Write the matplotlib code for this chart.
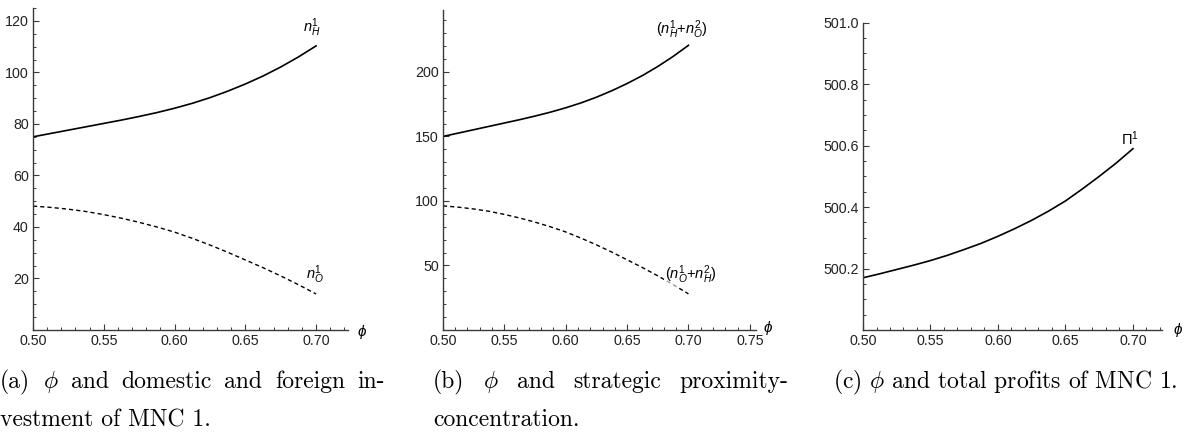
import numpy as np
import matplotlib.pyplot as plt
from matplotlib.ticker import MultipleLocator, FormatStrFormatter

plt.rcParams['font.family'] = ['Liberation Sans', 'DejaVu Sans']
plt.rcParams['mathtext.fontset'] = 'custom'
plt.rcParams['mathtext.rm'] = 'Liberation Sans'
plt.rcParams['mathtext.it'] = 'Liberation Sans:italic'

# values
phi = [0.50, 0.5125, 0.525, 0.5375, 0.55, 0.5625, 0.575, 0.5875, 0.60,
       0.6125, 0.625, 0.6375, 0.65, 0.6625, 0.675, 0.6875, 0.70]
n_H1 = [75.0, 76.3, 77.6, 78.9, 80.2, 81.5, 82.9, 84.4, 86.1,
        88.0, 90.2, 92.7, 95.5, 98.6, 102.1, 106.0, 110.3]
n_O1 = [48.1, 47.6, 46.9, 46.0, 44.8, 43.4, 41.8, 40.0, 38.0,
        35.6, 33.0, 30.2, 27.2, 24.2, 21.0, 17.6, 14.0]
sum_HO = [150.0, 152.6, 155.2, 157.8, 160.4, 163.0, 165.8, 168.8, 172.2,
          176.0, 180.4, 185.4, 191.0, 197.2, 204.2, 212.0, 220.6]
sum_OH = [96.2, 95.2, 93.8, 92.0, 89.6, 86.8, 83.6, 80.0, 76.0,
          71.2, 66.0, 60.4, 54.4, 48.4, 42.0, 35.2, 28.0]
profit = [500.170, 500.183, 500.197, 500.211, 500.226, 500.243, 500.262, 500.282, 500.305,
          500.330, 500.357, 500.387, 500.420, 500.459, 500.500, 500.543, 500.590]

axis_col = '#3a3a3a'
dash = (0, (3.0, 2.2))

fig = plt.figure(figsize=(11.92, 4.36), dpi=100)


def style(ax, xlim, ylim, xmaj, ymaj, ymin, yfmt):
    ax.set_xlim(*xlim)
    ax.set_ylim(*ylim)
    for s in ['top', 'right']:
        ax.spines[s].set_visible(False)
    for s in ['left', 'bottom']:
        ax.spines[s].set_color(axis_col)
        ax.spines[s].set_linewidth(1.0)
    ax.xaxis.set_major_locator(MultipleLocator(xmaj))
    ax.xaxis.set_minor_locator(MultipleLocator(0.01))
    ax.yaxis.set_major_locator(MultipleLocator(ymaj))
    ax.yaxis.set_minor_locator(MultipleLocator(ymin))
    ax.xaxis.set_major_formatter(FormatStrFormatter('%.2f'))
    ax.yaxis.set_major_formatter(FormatStrFormatter(yfmt))
    ax.tick_params(which='major', direction='in', length=4, width=0.8,
                   color=axis_col, labelsize=10.3, labelcolor='#222222', pad=3)
    ax.tick_params(which='minor', direction='in', length=2, width=0.7, color=axis_col)
    ax.patch.set_alpha(0)


# (a)
ax1 = fig.add_axes([0.0277, 0.2431, 0.2643, 0.7385])
ax1.plot(phi, n_H1, color='black', lw=1.2)
ax1.plot(phi, n_O1, color='black', lw=1.0, linestyle=dash)
style(ax1, (0.5, 0.7226), (0, 125), 0.05, 20, 5, '%d')
ax1.set_yticks([20, 40, 60, 80, 100, 120])
ax1.text(0.697, 117.3, r'$n_H^1$', fontsize=10.5, ha='center', va='center')
ax1.text(0.6993, 21.5, r'$n_O^1$', fontsize=10.5, ha='center', va='center')
ax1.text(1.044, -0.006, r'$\phi$', transform=ax1.transAxes, fontsize=11,
         ha='center', va='center')

# (b)
ax2 = fig.add_axes([0.3716, 0.2431, 0.2626, 0.7340])
ax2.plot(phi, sum_HO, color='black', lw=1.2)
ax2.plot(phi, sum_OH, color='black', lw=1.0, linestyle=dash)
style(ax2, (0.5, 0.755), (0, 248), 0.05, 50, 10, '%d')
ax2.set_yticks([50, 100, 150, 200])
ax2.text(0.695, 232.8, r'$(n_H^1$+$n_O^2)$', fontsize=10.5, ha='center', va='center')
ax2.text(0.7016, 42.8, r'$(n_O^1$+$n_H^2)$', fontsize=10.5, ha='center', va='center',
         bbox=dict(facecolor='white', edgecolor='none', pad=0.5, alpha=0.6))
ax2.text(1.038, 0.006, r'$\phi$', transform=ax2.transAxes, fontsize=11,
         ha='center', va='center')

# (c)
ax3 = fig.add_axes([0.7240, 0.2431, 0.2508, 0.7048])
ax3.plot(phi, profit, color='black', lw=1.2)
style(ax3, (0.5, 0.7215), (500.0, 501.0), 0.05, 0.2, 0.05, '%.1f')
ax3.set_yticks([500.2, 500.4, 500.6, 500.8, 501.0])
ax3.text(0.6978, 500.623, r'$\Pi^1$', fontsize=10.5, ha='center', va='center')
ax3.text(1.053, 0.0, r'$\phi$', transform=ax3.transAxes, fontsize=11,
         ha='center', va='center')

# captions (LaTeX-like, justified first lines)
cap_kw = dict(fontsize=17, fontfamily='cmr10', math_fontfamily='cm', va='baseline')
W, H = 1192.0, 436.0


def justified(words, x0, x1, ybase):
    texts = [fig.text(0, 1 - ybase / H, w, **cap_kw) for w in words]
    r = fig.canvas.get_renderer()
    widths = [t.get_window_extent(r).width for t in texts]
    gap = (x1 - x0 - sum(widths)) / (len(words) - 1)
    x = x0
    for t, w in zip(texts, widths):
        t.set_x(x / W)
        x += w + gap


justified(['(a)', r'$\phi$', 'and', 'domestic', 'and', 'foreign', 'in-'], 0, 385, 388)
fig.text(0, 1 - 426 / H, 'vestment of MNC 1.', **cap_kw)
justified(['(b)', r'$\phi$', 'and', 'strategic', 'proximity-'], 433, 788, 388)
fig.text(433 / W, 1 - 426 / H, 'concentration.', **cap_kw)
fig.text(833 / W, 1 - 388 / H, r'(c) $\phi$ and total profits of MNC 1.', **cap_kw)

fig.savefig('out.png', dpi=100)
